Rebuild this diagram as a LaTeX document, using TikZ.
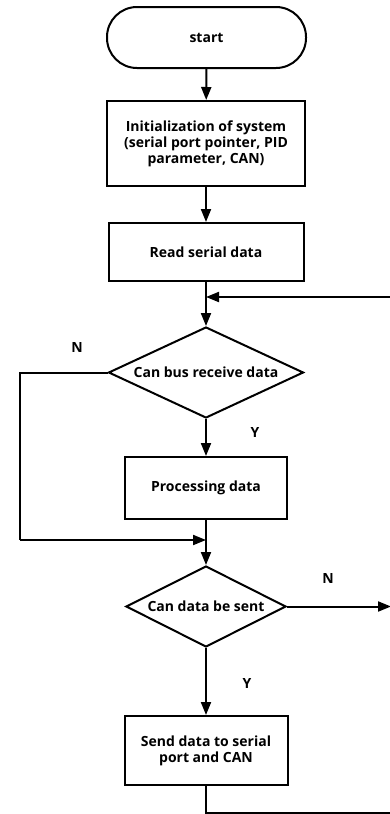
\documentclass[tikz,border=0pt]{standalone}
\usepackage{fontspec}
\setmainfont{Open Sans}
\usetikzlibrary{shapes.geometric,arrows.meta}
\begin{document}
\begin{tikzpicture}[x=1pt,y=-1pt,
  every node/.style={font=\fontsize{14}{16}\selectfont\bfseries},
  box/.style={draw,line width=2pt,rectangle,inner sep=0pt,align=center},
  term/.style={box,rounded corners=30pt},
  dec/.style={draw,line width=2pt,diamond,inner sep=0pt},
  conn/.style={line width=2pt,-{Triangle[length=13pt,width=10pt]}},
  plain/.style={line width=2pt},
  lbl/.style={font=\fontsize{14}{16}\selectfont\bfseries}]
\useasboundingbox (0,0) rectangle (390,814);
\node[term,minimum width=199pt,minimum height=61pt] (start) at (206.5,37.5) {start};
\node[box,minimum width=198pt,minimum height=85pt] (init) at (206,143.5) {Initialization of system\\(serial port pointer, PID\\parameter, CAN)};
\node[box,minimum width=195pt,minimum height=58pt] (read) at (206,252) {Read serial data};
\node[dec,shape aspect=2.14,minimum width=195pt,minimum height=91pt] (d1) at (206,372.5) {Can bus receive data};
\node[box,minimum width=162pt,minimum height=62pt] (proc) at (206,488) {Processing data};
\node[dec,shape aspect=1.98,minimum width=160pt,minimum height=81pt] (d2) at (206,606.5) {Can data be sent};
\node[box,minimum width=163pt,minimum height=69pt] (send) at (206,750.5) {Send data to serial\\port and CAN};
\coordinate (j1) at (206,297);
\coordinate (r1) at (391,297);
\coordinate (l1) at (20,372.5);
\coordinate (l2) at (20,540);
\coordinate (j2) at (206,540);
\coordinate (r2) at (391,606.5);
\coordinate (b1) at (206,813);
\coordinate (b2) at (391,813);
\node[lbl] (n1) at (77,347) {N};
\node[lbl] (y1) at (255,432) {Y};
\node[lbl] (n2) at (328,578) {N};
\node[lbl] (y2) at (247,683) {Y};
\draw[conn] (start) -- (init);
\draw[conn] (init) -- (read);
\draw[conn] (read) -- (d1);
\draw[conn] (r1) -- (j1);
\draw[plain] (d1.west) -- (l1) -- (l2);
\draw[conn] (l2) -- (j2);
\draw[conn] (d1) -- (proc);
\draw[conn] (proc) -- (d2);
\draw[conn] (d2.east) -- (r2);
\draw[conn] (d2) -- (send);
\draw[plain] (send.south) -- (b1) -- (b2);
\end{tikzpicture}
\end{document}
